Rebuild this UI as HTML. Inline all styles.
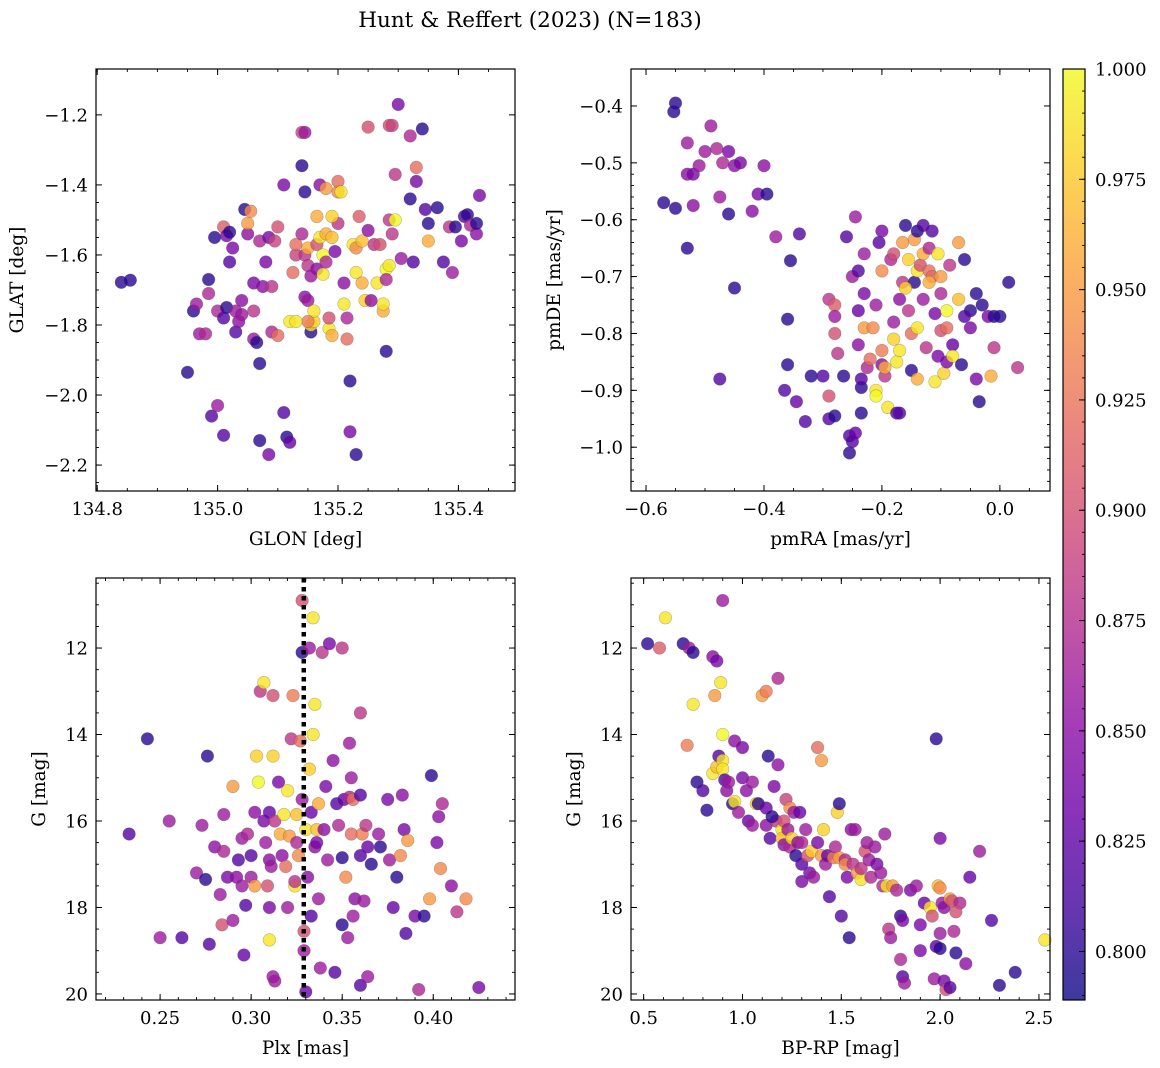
<!DOCTYPE html>
<html><head><meta charset="utf-8"><title>Hunt & Reffert (2023) (N=183)</title>
<style>
html,body{margin:0;padding:0;background:#fff;}
svg{display:block;font-family:"DejaVu Serif","Liberation Serif",serif;}
</style></head>
<body>
<svg id="fig" width="1160" height="1068" viewBox="0 0 1160 1068" xmlns="http://www.w3.org/2000/svg">
<text x="530" y="27" font-size="21.5" text-anchor="middle">Hunt &amp; Reffert (2023) (N=183)</text>
</svg>
<script>
// [glon, glat, prob]
const skyPoints=[[134.84,-1.678,0.80],[134.855,-1.672,0.80],[134.95,-1.935,0.80],[134.96,-1.76,0.80],[134.965,-1.74,0.86],[134.97,-1.825,0.86],[134.98,-1.825,0.87],[134.985,-1.67,0.80],[134.985,-1.71,0.87],[134.99,-2.06,0.82],[135.0,-2.03,0.86],[134.995,-1.55,0.80],[135.01,-1.52,0.91],[135.015,-1.545,0.84],[135.02,-1.535,0.80],[135.0,-1.76,0.87],[135.01,-1.78,0.82],[135.015,-1.75,0.80],[135.01,-2.115,0.82],[135.02,-1.62,0.82],[135.025,-1.58,0.84],[135.03,-1.76,0.86],[135.03,-1.82,0.82],[135.035,-1.79,0.85],[135.04,-1.77,0.86],[135.04,-1.73,0.85],[135.045,-1.47,0.80],[135.05,-1.54,0.85],[135.05,-1.51,0.95],[135.055,-1.475,0.94],[135.06,-1.84,0.86],[135.06,-1.76,0.88],[135.065,-1.85,0.80],[135.07,-1.91,0.80],[135.07,-2.13,0.80],[135.06,-1.68,0.84],[135.075,-1.69,0.85],[135.08,-1.62,0.84],[135.07,-1.56,0.87],[135.085,-1.55,0.84],[135.09,-1.69,0.88],[135.09,-1.82,0.87],[135.095,-1.56,0.89],[135.1,-1.52,0.90],[135.085,-2.17,0.84],[135.1,-1.83,0.92],[135.11,-2.05,0.82],[135.11,-1.4,0.84],[135.115,-2.12,0.80],[135.12,-2.135,0.83],[135.12,-1.79,0.99],[135.125,-1.65,0.92],[135.13,-1.6,0.89],[135.13,-1.57,0.92],[135.14,-1.54,0.87],[135.14,-1.25,0.89],[135.145,-1.25,0.86],[135.14,-1.345,0.80],[135.145,-1.42,0.80],[135.145,-1.6,0.88],[135.15,-1.58,0.96],[135.15,-1.63,0.88],[135.145,-1.72,0.85],[135.15,-1.73,0.86],[135.155,-1.66,0.86],[135.155,-1.82,0.80],[135.155,-1.8,0.99],[135.16,-1.79,0.98],[135.16,-1.76,0.99],[135.165,-1.49,0.96],[135.165,-1.57,0.90],[135.165,-1.64,0.85],[135.17,-1.4,0.85],[135.17,-1.55,0.99],[135.175,-1.6,1.0],[135.175,-1.655,0.99],[135.18,-1.41,0.95],[135.18,-1.54,0.96],[135.18,-1.62,0.87],[135.185,-1.81,0.99],[135.185,-1.78,0.90],[135.19,-1.83,0.96],[135.19,-1.55,0.97],[135.195,-1.59,0.84],[135.2,-1.51,0.88],[135.2,-1.42,0.94],[135.2,-1.39,0.92],[135.205,-1.42,0.99],[135.21,-1.68,0.85],[135.21,-1.74,0.99],[135.215,-1.78,0.87],[135.215,-1.84,0.92],[135.22,-1.96,0.80],[135.225,-1.57,0.99],[135.23,-1.58,0.94],[135.23,-1.65,0.99],[135.235,-1.49,0.91],[135.24,-1.56,0.97],[135.24,-1.68,0.96],[135.245,-1.73,0.98],[135.22,-2.105,0.84],[135.23,-2.17,0.80],[135.25,-1.235,0.90],[135.25,-1.53,0.85],[135.255,-1.73,0.85],[135.26,-1.57,0.88],[135.265,-1.68,0.99],[135.27,-1.57,0.90],[135.275,-1.76,0.96],[135.275,-1.74,0.99],[135.28,-1.64,1.0],[135.285,-1.63,0.99],[135.28,-1.875,0.80],[135.285,-1.5,0.88],[135.29,-1.54,0.88],[135.285,-1.23,0.90],[135.29,-1.23,0.89],[135.295,-1.5,1.0],[135.3,-1.17,0.84],[135.295,-1.37,0.88],[135.32,-1.26,0.87],[135.32,-1.44,0.80],[135.325,-1.62,0.82],[135.33,-1.35,0.92],[135.33,-1.39,0.84],[135.34,-1.24,0.80],[135.345,-1.47,0.82],[135.35,-1.51,0.80],[135.35,-1.56,0.96],[135.365,-1.465,0.80],[135.375,-1.62,0.82],[135.385,-1.52,0.88],[135.39,-1.65,0.86],[135.395,-1.52,0.80],[135.405,-1.56,0.84],[135.41,-1.49,0.82],[135.415,-1.485,0.80],[135.42,-1.515,0.87],[135.43,-1.54,0.85],[135.43,-1.51,0.80],[135.435,-1.43,0.84],[135.28,-1.67,0.87],[135.305,-1.61,0.86],[135.19,-1.49,0.98],[135.15,-1.79,0.93],[135.13,-1.79,0.99]];
// [pmRA, pmDE, prob]
const pmPoints=[[-0.55,-0.395,0.80],[-0.553,-0.41,0.80],[-0.57,-0.57,0.80],[-0.55,-0.58,0.80],[-0.53,-0.65,0.80],[-0.53,-0.465,0.86],[-0.53,-0.52,0.85],[-0.52,-0.52,0.84],[-0.51,-0.505,0.86],[-0.5,-0.48,0.86],[-0.49,-0.435,0.86],[-0.48,-0.475,0.87],[-0.47,-0.5,0.87],[-0.46,-0.48,0.84],[-0.45,-0.505,0.85],[-0.44,-0.5,0.84],[-0.475,-0.56,0.86],[-0.52,-0.575,0.85],[-0.46,-0.59,0.80],[-0.45,-0.72,0.80],[-0.475,-0.88,0.82],[-0.42,-0.585,0.85],[-0.41,-0.555,0.84],[-0.395,-0.555,0.80],[-0.4,-0.505,0.85],[-0.38,-0.63,0.86],[-0.355,-0.672,0.80],[-0.34,-0.625,0.82],[-0.36,-0.775,0.80],[-0.36,-0.855,0.80],[-0.365,-0.9,0.82],[-0.345,-0.92,0.83],[-0.33,-0.955,0.82],[-0.32,-0.875,0.80],[-0.3,-0.875,0.82],[-0.29,-0.74,0.88],[-0.29,-0.91,0.90],[-0.29,-0.95,0.82],[-0.28,-0.75,0.91],[-0.28,-0.77,0.86],[-0.28,-0.8,0.90],[-0.275,-0.835,0.88],[-0.28,-0.945,0.80],[-0.265,-0.875,0.80],[-0.26,-0.63,0.82],[-0.255,-0.98,0.82],[-0.255,-1.01,0.80],[-0.25,-0.99,0.82],[-0.245,-0.975,0.83],[-0.25,-0.7,0.86],[-0.245,-0.595,0.86],[-0.24,-0.76,0.83],[-0.24,-0.82,0.85],[-0.24,-0.69,0.82],[-0.235,-0.895,0.80],[-0.235,-0.88,0.82],[-0.235,-0.94,0.80],[-0.23,-0.66,0.86],[-0.23,-0.73,0.84],[-0.23,-0.79,0.95],[-0.225,-0.86,0.87],[-0.22,-0.845,0.92],[-0.215,-0.79,0.94],[-0.21,-0.75,0.86],[-0.21,-0.9,0.99],[-0.205,-0.64,0.82],[-0.2,-0.62,0.84],[-0.2,-0.69,0.94],[-0.2,-0.83,0.93],[-0.2,-0.855,0.85],[-0.195,-0.875,0.88],[-0.21,-0.91,1.0],[-0.195,-0.86,0.96],[-0.19,-0.93,0.99],[-0.185,-0.67,0.87],[-0.18,-0.81,0.98],[-0.18,-0.66,0.90],[-0.18,-0.78,0.86],[-0.175,-0.85,0.99],[-0.17,-0.94,0.82],[-0.175,-0.94,0.82],[-0.17,-0.83,0.99],[-0.165,-0.71,0.88],[-0.165,-0.64,0.95],[-0.16,-0.61,0.80],[-0.155,-0.67,0.98],[-0.155,-0.76,0.88],[-0.15,-0.8,0.92],[-0.15,-0.865,0.80],[-0.145,-0.71,0.80],[-0.145,-0.635,0.95],[-0.14,-0.62,0.80],[-0.14,-0.69,0.99],[-0.14,-0.79,0.99],[-0.14,-0.88,0.96],[-0.135,-0.68,0.90],[-0.13,-0.61,0.82],[-0.13,-0.66,0.96],[-0.13,-0.74,0.86],[-0.125,-0.825,0.88],[-0.12,-0.69,0.92],[-0.12,-0.65,0.87],[-0.115,-0.7,0.92],[-0.115,-0.62,0.82],[-0.11,-0.765,0.84],[-0.11,-0.885,0.99],[-0.105,-0.84,0.84],[-0.105,-0.66,0.99],[-0.1,-0.7,0.95],[-0.1,-0.73,0.87],[-0.1,-0.795,0.90],[-0.095,-0.87,0.98],[-0.09,-0.76,1.0],[-0.09,-0.85,0.84],[-0.09,-0.79,0.92],[-0.085,-0.68,0.88],[-0.08,-0.82,0.83],[-0.08,-0.84,0.99],[-0.07,-0.74,0.97],[-0.07,-0.64,0.95],[-0.065,-0.855,0.80],[-0.06,-0.67,0.80],[-0.05,-0.76,0.80],[-0.04,-0.73,0.80],[-0.04,-0.88,0.84],[-0.035,-0.92,0.80],[-0.03,-0.75,0.80],[-0.02,-0.77,0.84],[-0.015,-0.875,0.96],[-0.01,-0.77,0.80],[-0.01,-0.825,0.88],[0.0,-0.77,0.80],[0.015,-0.71,0.80],[0.03,-0.86,0.88],[-0.05,-0.79,0.84],[-0.06,-0.77,0.82],[-0.12,-0.71,0.96],[-0.16,-0.72,0.98],[-0.17,-0.74,0.85]];
// [plx, G, prob]
const plxPoints=[[0.233,16.3,0.82],[0.243,14.1,0.80],[0.25,18.7,0.86],[0.255,16.0,0.86],[0.262,18.7,0.82],[0.27,17.2,0.86],[0.273,16.1,0.86],[0.275,17.35,0.80],[0.276,14.5,0.80],[0.277,18.85,0.82],[0.28,16.6,0.85],[0.283,17.7,0.86],[0.284,18.4,0.90],[0.285,15.85,0.86],[0.285,16.7,0.87],[0.287,17.3,0.84],[0.29,18.3,0.86],[0.29,15.2,0.95],[0.292,17.3,0.85],[0.293,16.9,0.82],[0.295,16.4,0.86],[0.296,19.1,0.83],[0.297,17.95,0.82],[0.298,16.3,0.87],[0.3,16.8,0.82],[0.3,17.3,0.86],[0.302,15.8,0.85],[0.302,17.5,0.95],[0.303,14.5,0.98],[0.304,15.1,1.0],[0.305,13.0,0.88],[0.307,12.8,0.99],[0.307,16.0,0.84],[0.308,16.5,0.86],[0.309,17.5,0.90],[0.31,18.75,0.99],[0.31,16.9,0.85],[0.31,15.8,0.83],[0.311,17.05,0.86],[0.312,13.1,0.90],[0.312,14.5,0.98],[0.313,16.0,0.88],[0.313,19.7,0.86],[0.312,19.6,0.86],[0.315,15.1,0.84],[0.316,16.3,0.96],[0.317,16.8,0.85],[0.318,15.85,0.99],[0.319,17.05,0.92],[0.32,18.0,0.86],[0.32,15.3,0.99],[0.321,16.35,0.95],[0.322,14.1,0.88],[0.323,13.1,0.93],[0.324,17.5,0.99],[0.324,17.4,0.88],[0.325,16.5,0.87],[0.325,15.85,0.97],[0.326,16.8,0.94],[0.327,14.15,0.92],[0.328,15.5,0.86],[0.328,12.1,0.80],[0.328,10.9,0.90],[0.329,18.55,0.90],[0.329,19.0,0.86],[0.33,19.95,0.83],[0.33,16.2,0.99],[0.331,17.3,0.85],[0.332,14.8,0.98],[0.332,12.0,0.86],[0.333,15.8,0.83],[0.333,18.2,0.82],[0.334,11.3,0.99],[0.334,14.0,0.99],[0.335,16.6,0.85],[0.335,13.3,0.99],[0.336,16.5,0.84],[0.336,16.2,0.97],[0.337,15.6,0.96],[0.337,17.8,0.86],[0.338,19.4,0.86],[0.339,12.1,0.88],[0.34,16.2,0.85],[0.341,15.2,0.84],[0.342,16.9,0.86],[0.343,11.9,0.84],[0.345,14.6,0.85],[0.346,19.5,0.82],[0.347,15.6,0.82],[0.348,16.1,0.87],[0.35,18.4,0.80],[0.35,12.0,0.88],[0.35,16.85,0.80],[0.351,15.5,0.83],[0.352,17.3,0.94],[0.353,18.7,0.86],[0.354,15.45,0.87],[0.354,14.2,0.86],[0.355,16.3,0.92],[0.355,15.0,0.86],[0.356,18.2,0.86],[0.356,15.5,0.92],[0.357,17.8,0.85],[0.36,15.4,0.82],[0.36,16.8,0.82],[0.36,19.8,0.82],[0.361,16.3,0.93],[0.362,17.85,0.86],[0.363,16.1,0.88],[0.364,16.6,0.83],[0.364,19.6,0.86],[0.366,17.0,0.80],[0.37,16.3,0.86],[0.371,16.6,0.80],[0.375,15.5,0.84],[0.376,16.9,0.86],[0.378,18.0,0.83],[0.382,16.8,0.94],[0.383,15.4,0.85],[0.384,16.2,0.84],[0.385,18.6,0.82],[0.386,16.45,0.95],[0.39,18.2,0.84],[0.392,19.9,0.87],[0.395,18.2,0.80],[0.398,17.8,0.95],[0.399,14.95,0.80],[0.402,16.5,0.84],[0.403,15.9,0.85],[0.404,17.1,0.94],[0.405,15.6,0.87],[0.41,17.5,0.85],[0.413,18.1,0.88],[0.418,17.8,0.94],[0.425,19.85,0.84],[0.38,17.3,0.80],[0.36,13.5,0.88],[0.31,18.0,0.84],[0.295,17.5,0.86]];
// [BP-RP, G, prob]
const cmdPoints=[[0.52,11.9,0.80],[0.58,12.0,0.91],[0.61,11.3,0.99],[0.7,11.9,0.80],[0.73,12.0,0.86],[0.75,12.1,0.80],[0.85,12.2,0.85],[0.9,10.9,0.86],[0.87,12.3,0.84],[0.75,13.3,0.99],[0.72,14.25,0.93],[0.86,13.1,0.95],[0.89,12.8,0.99],[0.77,15.1,0.80],[0.8,15.3,0.82],[0.82,15.75,0.80],[0.85,14.9,0.99],[0.87,14.75,0.97],[0.88,14.5,0.82],[0.9,14.0,1.0],[0.9,14.6,0.99],[0.9,14.8,0.99],[0.91,15.05,0.82],[0.92,15.3,0.85],[0.93,15.1,0.86],[0.95,15.6,0.80],[0.96,15.55,0.99],[0.96,14.15,0.85],[0.98,15.8,0.86],[1.0,14.3,0.84],[1.0,15.0,0.84],[1.02,15.3,0.85],[1.03,16.0,0.83],[1.05,15.1,0.86],[1.05,16.1,0.86],[1.07,15.6,0.98],[1.08,15.6,0.80],[1.1,13.1,0.95],[1.12,13.0,0.93],[1.12,15.7,0.83],[1.12,16.1,0.85],[1.13,14.5,0.80],[1.14,16.4,0.82],[1.16,15.2,0.84],[1.17,16.0,0.88],[1.18,12.7,0.87],[1.18,14.7,0.85],[1.2,16.2,0.99],[1.2,16.4,0.97],[1.21,16.0,0.90],[1.21,16.55,0.85],[1.22,15.5,0.89],[1.23,16.2,0.86],[1.24,16.6,0.87],[1.24,15.7,0.94],[1.25,16.4,0.98],[1.26,15.8,0.86],[1.27,16.8,0.80],[1.28,16.5,0.85],[1.29,15.8,0.83],[1.3,16.5,0.87],[1.3,17.0,0.82],[1.32,16.2,0.86],[1.33,16.8,0.90],[1.34,17.2,0.84],[1.35,16.7,0.98],[1.36,17.3,0.86],[1.38,16.5,0.84],[1.38,14.3,0.92],[1.4,14.6,0.95],[1.4,16.8,0.95],[1.41,16.2,0.98],[1.42,17.0,0.86],[1.43,16.8,0.83],[1.44,17.75,0.82],[1.46,16.85,0.93],[1.47,16.6,0.87],[1.48,15.8,0.98],[1.49,16.85,0.95],[1.49,15.6,0.80],[1.5,18.2,0.82],[1.52,16.9,0.87],[1.52,17.0,0.94],[1.53,17.3,0.84],[1.54,18.7,0.80],[1.55,16.2,0.85],[1.56,17.0,0.88],[1.57,16.2,0.86],[1.58,17.2,0.95],[1.6,17.35,0.99],[1.6,17.1,0.88],[1.62,16.7,0.90],[1.63,16.5,0.86],[1.64,16.9,0.86],[1.65,17.3,0.87],[1.67,16.6,0.86],[1.68,17.0,0.84],[1.7,17.2,0.86],[1.71,17.5,0.87],[1.72,16.3,0.86],[1.73,17.5,0.99],[1.74,18.5,0.88],[1.75,18.7,0.86],[1.76,17.5,0.95],[1.78,17.6,0.87],[1.8,18.2,0.80],[1.81,18.3,0.84],[1.8,19.2,0.87],[1.81,19.6,0.82],[1.82,19.75,0.86],[1.85,17.6,0.84],[1.88,17.5,0.86],[1.9,18.4,0.84],[1.92,17.9,0.83],[1.95,18.0,0.99],[1.96,18.2,0.90],[1.98,14.1,0.80],[1.99,17.5,0.97],[2.0,17.55,0.94],[2.0,16.4,0.84],[2.01,17.9,0.86],[2.02,18.0,0.85],[2.0,18.6,0.86],[1.98,18.9,0.82],[2.0,18.95,0.80],[1.97,19.65,0.86],[2.02,19.7,0.84],[2.03,19.9,0.90],[2.05,17.8,0.95],[2.06,17.85,0.90],[2.07,18.55,0.87],[2.08,19.05,0.80],[2.05,19.85,0.82],[2.1,17.9,0.87],[2.13,19.3,0.85],[2.15,17.3,0.83],[2.2,16.7,0.86],[2.26,18.3,0.82],[2.3,19.8,0.80],[2.38,19.5,0.80],[2.53,18.75,0.99],[2.08,18.1,0.90],[1.9,19.0,0.84],[1.3,17.4,0.84],[1.15,15.9,0.80]];
const meanPlx=0.3289;
const glonTicks=[134.8,135.0,135.2,135.4];
const glatTicks=[-1.2,-1.4,-1.6,-1.8,-2.0,-2.2];
const pmraTicks=[-0.6,-0.4,-0.2,0.0];
const pmdeTicks=[-0.4,-0.5,-0.6,-0.7,-0.8,-0.9,-1.0];
const plxTicks=[0.25,0.30,0.35,0.40];
const gTicks=[12,14,16,18,20];
const bprpTicks=[0.5,1.0,1.5,2.0,2.5];
const cbarTicks=[0.800,0.825,0.850,0.875,0.900,0.925,0.950,0.975,1.000];
const probMin=0.789, probMax=1.0;

const NS="http://www.w3.org/2000/svg";
const svg=document.getElementById('fig');
function mk(tag,attrs,parent){const e=document.createElementNS(NS,tag);for(const k in attrs)e.setAttribute(k,attrs[k]);(parent||svg).appendChild(e);return e;}
const stops=[[13,8,135],[65,4,157],[106,0,168],[143,13,164],[177,42,144],[204,71,120],[225,100,98],[242,132,75],[252,166,54],[252,206,37],[240,249,33]];
function plasma(t){t=Math.max(0,Math.min(1,t))*10;const i=Math.min(9,Math.floor(t)),f=t-i;const a=stops[i],b=stops[i+1];return 'rgb('+[0,1,2].map(k=>Math.round(a[k]+(b[k]-a[k])*f)).join(',')+')';}
function pcol(p){return plasma((p-probMin)/(probMax-probMin));}
function fmt(v,d){return (v<0?'\u2212':'')+Math.abs(v).toFixed(d);}
const TICKFS=18, LABFS=18.5;

function panel(cfg){
  const g=mk('g',{});
  
  
  const sx=v=>cfg.x0+(v-cfg.xmin)/(cfg.xmax-cfg.xmin)*(cfg.x1-cfg.x0);
  const sy=v=>cfg.y0+(v-cfg.ytop)/(cfg.ybot-cfg.ytop)*(cfg.y1-cfg.y0);
  const pg=mk('g',{},g);
  
  
  cfg.pts.forEach(d=>{
    const c=mk('circle',{cx:sx(d[0]).toFixed(1),cy:sy(d[1]).toFixed(1),r:6.3,fill:pcol(d[2]),'fill-opacity':0.8,stroke:'rgba(60,60,60,0.35)','stroke-width':0.6},pg);
    
    
  });
  if(cfg.extra)cfg.extra(g,sx,sy);
  const fr=mk('rect',{x:cfg.x0,y:cfg.y0,width:cfg.x1-cfg.x0,height:cfg.y1-cfg.y0,fill:'none',stroke:'#000','stroke-width':1.2},g);
  
  
  const xs=cfg.xt[1]-cfg.xt[0], mxs=xs/cfg.xminor;
  for(let v=cfg.xt[0]-xs*3;v<=cfg.xmax+1e-9;v+=mxs){
    if(v<cfg.xmin-1e-9)continue;const X=sx(v);
    mk('line',{x1:X,x2:X,y1:cfg.y1,y2:cfg.y1-3,stroke:'#000','stroke-width':0.9},g);
    mk('line',{x1:X,x2:X,y1:cfg.y0,y2:cfg.y0+3,stroke:'#000','stroke-width':0.9},g);
  }
  cfg.xt.forEach(v=>{const X=sx(v);
    mk('line',{x1:X,x2:X,y1:cfg.y1,y2:cfg.y1-6,stroke:'#000','stroke-width':1},g);
    mk('line',{x1:X,x2:X,y1:cfg.y0,y2:cfg.y0+6,stroke:'#000','stroke-width':1},g);
    const t=mk('text',{x:X,y:cfg.y1+24,'font-size':TICKFS,'text-anchor':'middle'},g);t.textContent=fmt(v,cfg.xd);
    
    
  });
  const ys=cfg.yt[1]-cfg.yt[0], mys=ys/cfg.yminor;
  const lo=Math.min(cfg.ytop,cfg.ybot),hi=Math.max(cfg.ytop,cfg.ybot);
  for(let v=cfg.yt[0]-mys*Math.ceil(Math.abs(cfg.yt[0]-cfg.ytop)/Math.abs(mys)+2)*Math.sign(ys);(ys>0?v<=hi+1e-9:v>=lo-1e-9);v+=mys){
    if(v<lo-1e-9||v>hi+1e-9)continue;const Y=sy(v);
    mk('line',{x1:cfg.x0,x2:cfg.x0+3,y1:Y,y2:Y,stroke:'#000','stroke-width':0.9},g);
    mk('line',{x1:cfg.x1,x2:cfg.x1-3,y1:Y,y2:Y,stroke:'#000','stroke-width':0.9},g);
  }
  cfg.yt.forEach(v=>{const Y=sy(v);
    mk('line',{x1:cfg.x0,x2:cfg.x0+6,y1:Y,y2:Y,stroke:'#000','stroke-width':1},g);
    mk('line',{x1:cfg.x1,x2:cfg.x1-6,y1:Y,y2:Y,stroke:'#000','stroke-width':1},g);
    const t=mk('text',{x:cfg.x0-8,y:Y+6.5,'font-size':TICKFS,'text-anchor':'end'},g);t.textContent=fmt(v,cfg.yd);
    
    
  });
  const xl=mk('text',{x:(cfg.x0+cfg.x1)/2,y:cfg.y1+54,'font-size':LABFS,'text-anchor':'middle'},g);xl.textContent=cfg.xlabel;
  
  
  const yx=cfg.ylx, yy=(cfg.y0+cfg.y1)/2;
  const yl=mk('text',{x:yx,y:yy,'font-size':LABFS,'text-anchor':'middle',transform:'rotate(-90 '+yx+' '+yy+')'},g);yl.textContent=cfg.ylabel;
  
  
}

panel({name:'sky-position-panel',pts:skyPoints,x0:96,x1:515,y0:69,y1:491,xmin:134.798,xmax:135.494,ytop:-1.069,ybot:-2.274,xt:glonTicks,xminor:4,xd:1,yt:glatTicks,yminor:4,yd:1,xlabel:'GLON [deg]',ylabel:'GLAT [deg]',ylx:23});
panel({name:'proper-motion-panel',pts:pmPoints,x0:631,x1:1050,y0:69,y1:491,xmin:-0.6255,xmax:0.085,ytop:-0.335,ybot:-1.077,xt:pmraTicks,xminor:4,xd:1,yt:pmdeTicks,yminor:5,yd:1,xlabel:'pmRA [mas/yr]',ylabel:'pmDE [mas/yr]',ylx:560});
panel({name:'parallax-magnitude-panel',pts:plxPoints,x0:96,x1:515,y0:578,y1:1000,xmin:0.2148,xmax:0.4449,ytop:10.38,ybot:20.14,xt:plxTicks,xminor:5,xd:2,yt:gTicks,yminor:4,yd:0,xlabel:'Plx [mas]',ylabel:'G [mag]',ylx:45,
  extra:(g,sx,sy)=>{const l=mk('line',{x1:sx(meanPlx),x2:sx(meanPlx),y1:578,y2:1000,stroke:'#000','stroke-width':4.5,'stroke-dasharray':'4.5 4.5'},g);
    
    }});
panel({name:'color-magnitude-panel',pts:cmdPoints,x0:631,x1:1050,y0:578,y1:1000,xmin:0.436,xmax:2.556,ytop:10.38,ybot:20.14,xt:bprpTicks,xminor:5,xd:1,yt:gTicks,yminor:4,yd:0,xlabel:'BP-RP [mag]',ylabel:'G [mag]',ylx:580});

(function(){
  const g=mk('g',{});
  
  
  const x0=1063,x1=1085,y0=69,y1=1000;
  const defs=mk('defs',{},g);
  const lg=mk('linearGradient',{id:'cg',x1:0,y1:1,x2:0,y2:0},defs);
  for(let i=0;i<=20;i++){mk('stop',{offset:(i/20),'stop-color':plasma(i/20),'stop-opacity':0.8},lg);}
  mk('rect',{x:x0,y:y0,width:x1-x0,height:y1-y0,fill:'url(#cg)',stroke:'#000','stroke-width':1.2},g);
  const sy=v=>y1-(v-probMin)/(probMax-probMin)*(y1-y0);
  for(let v=0.790;v<=1.0001;v+=0.005){const Y=sy(v);mk('line',{x1:x1,x2:x1-3,y1:Y,y2:Y,stroke:'#000','stroke-width':0.9},g);}
  cbarTicks.forEach(v=>{const Y=sy(v);
    mk('line',{x1:x1,x2:x1-6,y1:Y,y2:Y,stroke:'#000','stroke-width':1},g);
    const t=mk('text',{x:x1+10,y:Y+6.5,'font-size':TICKFS},g);t.textContent=v.toFixed(3);
    
    
  });
})();
</script>
</body></html>
